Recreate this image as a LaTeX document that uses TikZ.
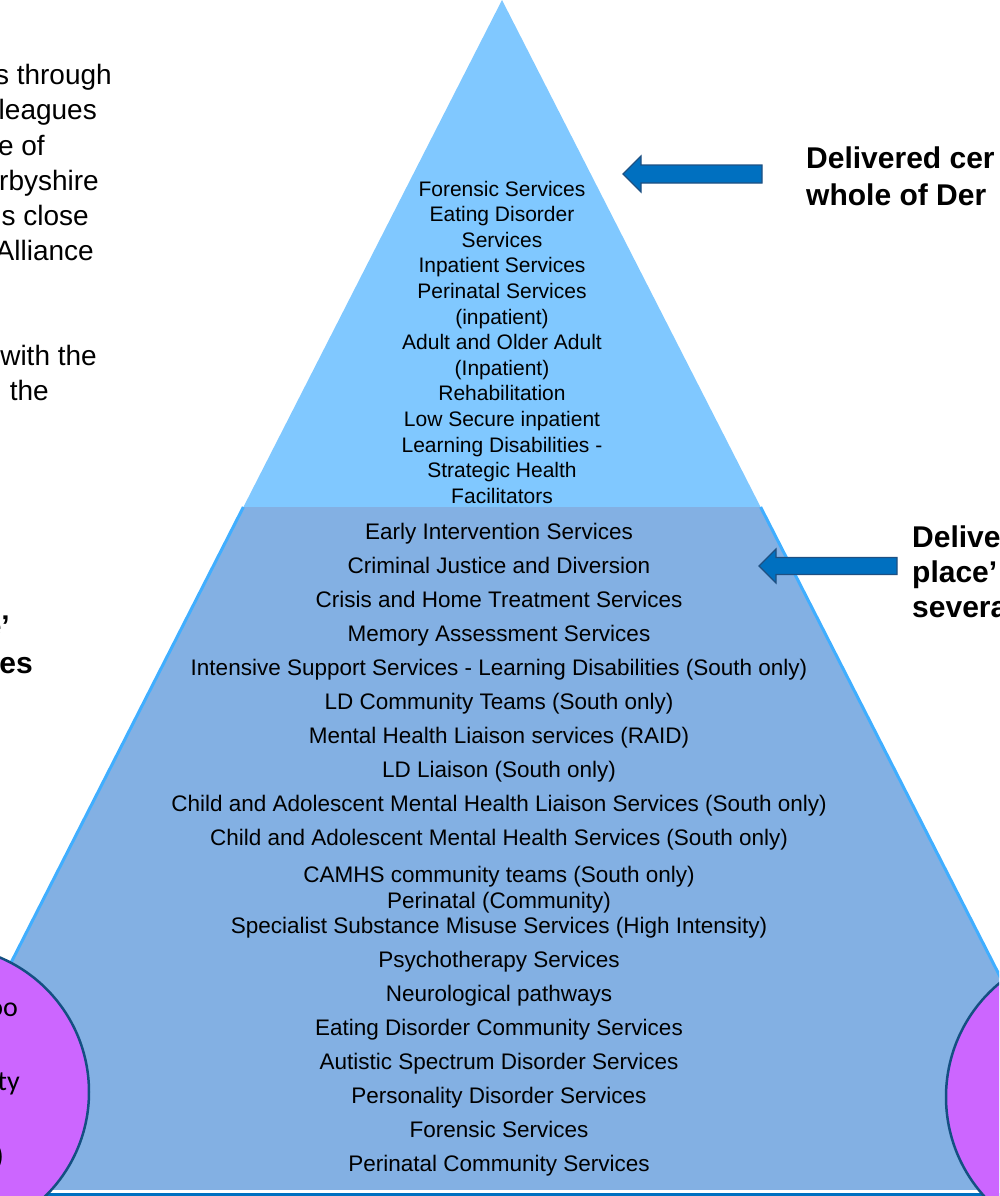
\documentclass[tikz,border=0pt]{standalone}
\usepackage{fontspec}
\setmainfont{Liberation Sans}
\newfontfamily\calfont{Carlito}
\definecolor{topfill}{RGB}{128,200,255}
\definecolor{midfill}{RGB}{131,176,227}
\definecolor{edgeblue}{RGB}{64,174,255}
\definecolor{basefill}{RGB}{0,112,192}
\definecolor{arrowfill}{RGB}{0,112,192}
\definecolor{arrowedge}{RGB}{30,80,130}
\definecolor{circfill}{RGB}{204,102,255}
\definecolor{circedge}{RGB}{20,80,130}

\begin{document}
\begin{tikzpicture}[x=1pt,y=-1pt,
  sidetext/.style={inner sep=0pt,anchor=base east,font=\fontsize{28}{35}\selectfont},
  sidebold/.style={inner sep=0pt,font=\fontsize{30}{36}\selectfont\bfseries},
  toptext/.style={inner sep=0pt,anchor=base,font=\fontsize{21}{25}\selectfont},
  midtext/.style={inner sep=0pt,anchor=base,font=\fontsize{22.5}{27}\selectfont},
  circtext/.style={inner sep=0pt,anchor=base east,font=\calfont\fontsize{28}{34}\selectfont},
  ring/.style={circle,draw=circedge,line width=2.5pt,fill=circfill,inner sep=0pt},
  blockarrow/.style={fill=arrowfill,draw=arrowedge,line width=1.2pt,line join=miter},
]
\useasboundingbox (0,0) rectangle (999,1196);
\clip (0,0) rectangle (999,1196);

% pyramid tiers
\fill[topfill] (502,0) -- (760.6,507) -- (243.4,507) -- cycle;
\fill[midfill] (243.4,507) -- (760.6,507) -- (1108.9,1190) -- (-104.9,1190) -- cycle;
\draw[edgeblue,line width=3pt] (243.4,507) -- (-104.9,1190);
\draw[edgeblue,line width=3pt] (760.6,507) -- (1108.9,1190);
\fill[white] (-200,1190) rectangle (1200,1193);
\fill[basefill] (-200,1193) rectangle (1200,1200);

% services in the top tier
\foreach \txt [count=\i from 0] in {{Forensic Services},{Eating Disorder},Services,
  {Inpatient Services},{Perinatal Services},(inpatient),{Adult and Older Adult},
  (Inpatient),Rehabilitation,{Low Secure inpatient},{Learning Disabilities -},
  {Strategic Health},Facilitators}
  \node[toptext] (top\i) at (502,{196+25.6*\i}) {\txt};

% services in the middle tier
\foreach \yy/\txt [count=\i] in {
  539/{Early Intervention Services},
  573/{Criminal Justice and Diversion},
  607/{Crisis and Home Treatment Services},
  641/{Memory Assessment Services},
  675/{Intensive Support Services - Learning Disabilities (South only)},
  709/{LD Community Teams (South only)},
  743/{Mental Health Liaison services (RAID)},
  777/{LD Liaison (South only)},
  811/{Child and Adolescent Mental Health Liaison Services (South only)},
  845/{Child and Adolescent Mental Health Services (South only)},
  882/{CAMHS community teams (South only)},
  908/{Perinatal (Community)},
  933/{Specialist Substance Misuse Services (High Intensity)},
  967/{Psychotherapy Services},
  1001/{Neurological pathways},
  1035/{Eating Disorder Community Services},
  1069/{Autistic Spectrum Disorder Services},
  1103/{Personality Disorder Services},
  1137/{Forensic Services},
  1171/{Perinatal Community Services}}
  \node[midtext] (mid\i) at (499,\yy) {\txt};

% block arrows
\draw[blockarrow] (623,174) -- (641,156) -- (641,165) -- (762,165) -- (762,183)
  -- (641,183) -- (641,192) -- cycle;
\draw[blockarrow] (759,566) -- (776,549) -- (776,557.5) -- (897,557.5) -- (897,574.5)
  -- (776,574.5) -- (776,583) -- cycle;

% labels on the right
\node[sidebold,anchor=base west] (r1) at (806,168) {Delivered cer};
\node[sidebold,anchor=base west] (r2) at (806,205) {whole of Der};
\node[sidebold,anchor=base west] (r3) at (912,547) {Delive};
\node[sidebold,anchor=base west] (r4) at (912,582) {place’};
\node[sidebold,anchor=base west] (r5) at (912,617) {severa};

% text on the left
\node[sidetext] (l1) at (112,85) {s through};
\node[sidetext] (l2) at (97,120) {leagues};
\node[sidetext] (l3) at (45,155) {e of};
\node[sidetext] (l4) at (99,190) {rbyshire};
\node[sidetext] (l5) at (89,225) {s close};
\node[sidetext] (l6) at (94,260) {Alliance};
\node[sidetext] (l7) at (97,365) {with the};
\node[sidetext] (l8) at (49,400) {the};
\node[sidebold,anchor=base east] (l9) at (10,636) {e’};
\node[sidebold,anchor=base east] (l10) at (33,673) {es};

% side circles
\node[ring,minimum size=292pt] (lc) at (-57,1092) {};
\node[ring,minimum size=296pt] (rc) at (1094,1097) {};
\node[circtext] (c1) at (18,1016) {oo};
\node[circtext] (c2) at (20,1090) {ty};
\node[circtext] (c3) at (4,1165) {)};
\end{tikzpicture}
\end{document}
